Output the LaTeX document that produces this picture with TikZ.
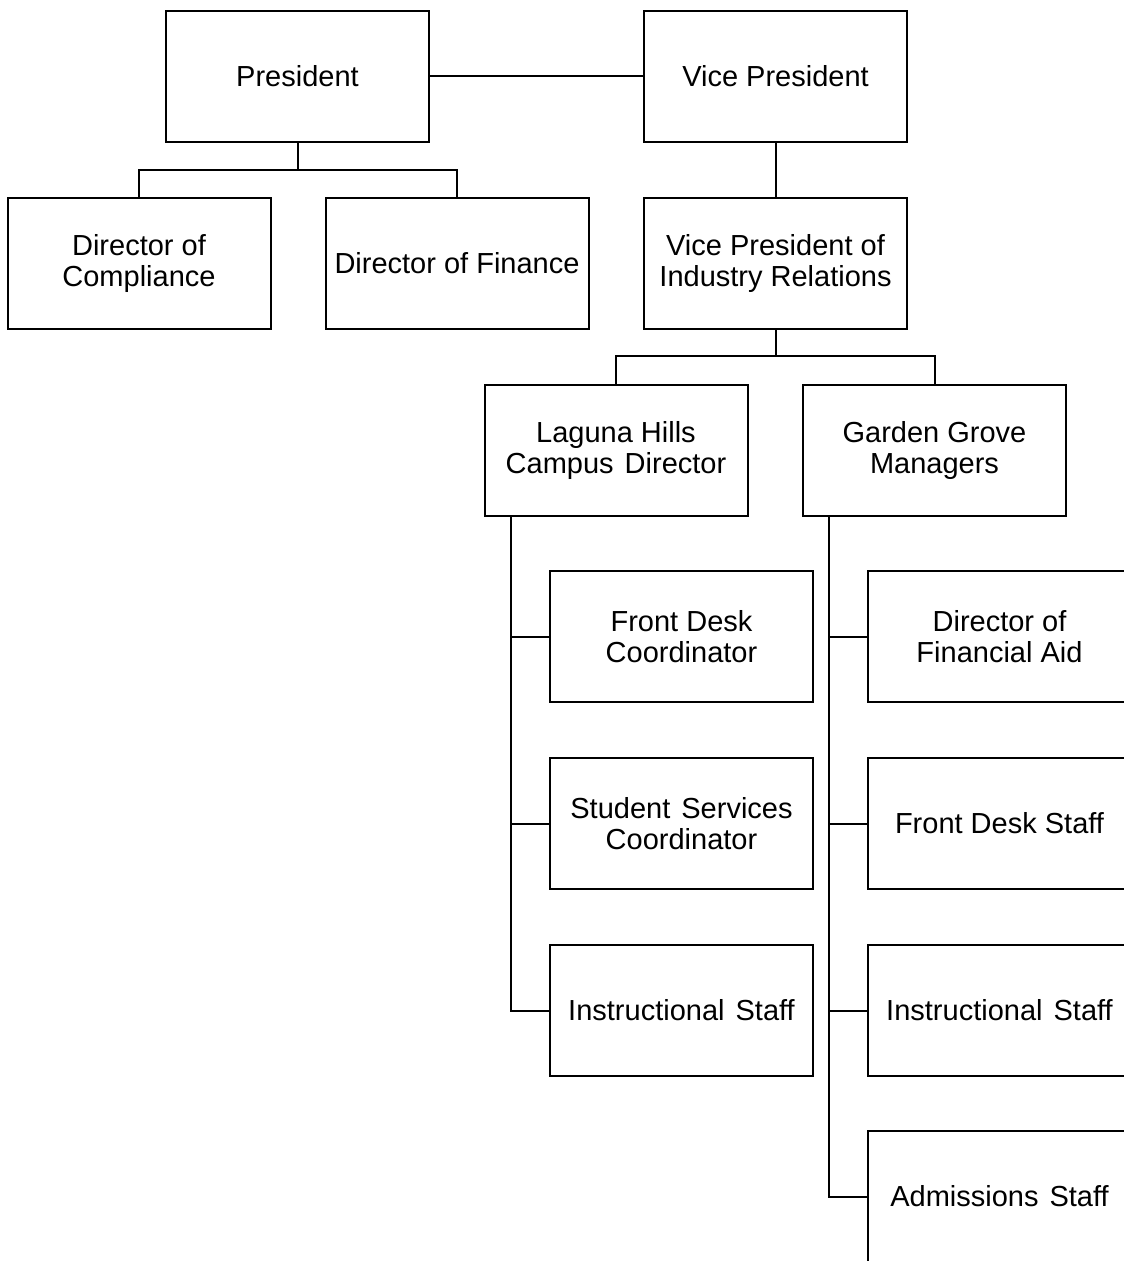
\documentclass[tikz,border=0pt]{standalone}
\usepackage{fontspec}
\setmainfont{Liberation Sans}
\newcommand{\wsp}{\ \hspace{3pt}}
\begin{document}
\begin{tikzpicture}[x=1pt,y=-1pt,
  box/.style={draw=black, line width=2pt, minimum width=263pt, minimum height=131pt, inner sep=0pt, align=center,
    font=\fontsize{29}{31}\selectfont},
  conn/.style={draw=black, line width=2pt}]
\clip (0,0) rectangle (1124,1261);
\fill[white] (0,0) rectangle (1124,1261);
\node[box] (pres) at (297.5,76) {President};
\node[box] (vp) at (775.5,76) {Vice President};
\node[box] (comp) at (139,263) {Director of\\Compliance};
\node[box] (fin) at (457,263) {Director of Finance};
\node[box] (vpir) at (775.5,263) {Vice President of\\Industry Relations};
\node[box] (lag) at (616,450) {Laguna Hills\\Campus\wsp Director};
\node[box] (gg) at (934.5,450) {Garden Grove\\Managers};
\node[box] (fdc) at (681.5,636.5) {Front Desk\\Coordinator};
\node[box] (ssc) at (681.5,823.5) {Student\wsp Services\\Coordinator};
\node[box] (is1) at (681.5,1010.5) {Instructional\wsp Staff};
\node[box] (dfa) at (999.5,636.5) {Director of\\Financial Aid};
\node[box] (fds) at (999.5,823.5) {Front Desk Staff};
\node[box] (is2) at (999.5,1010.5) {Instructional\wsp Staff};
\node[box] (adm) at (999.5,1196.5) {Admissions\wsp Staff};
\coordinate (b1) at (297.5,170);
\coordinate (b2) at (775.5,356);
\coordinate (lx) at (511,516);
\coordinate (gx) at (829,516);
\draw[conn] (pres.east) -- (vp.west);
\draw[conn] (pres.south) -- (b1) -| (comp.north);
\draw[conn] (b1) -| (fin.north);
\draw[conn] (vp.south) -- (vpir.north);
\draw[conn] (vpir.south) -- (b2) -| (lag.north);
\draw[conn] (b2) -| (gg.north);
\draw[conn] (lx) |- (is1.west);
\draw[conn] (lx |- fdc.west) -- (fdc.west);
\draw[conn] (lx |- ssc.west) -- (ssc.west);
\draw[conn] (gx) |- (adm.west);
\draw[conn] (gx |- dfa.west) -- (dfa.west);
\draw[conn] (gx |- fds.west) -- (fds.west);
\draw[conn] (gx |- is2.west) -- (is2.west);
\end{tikzpicture}
\end{document}
